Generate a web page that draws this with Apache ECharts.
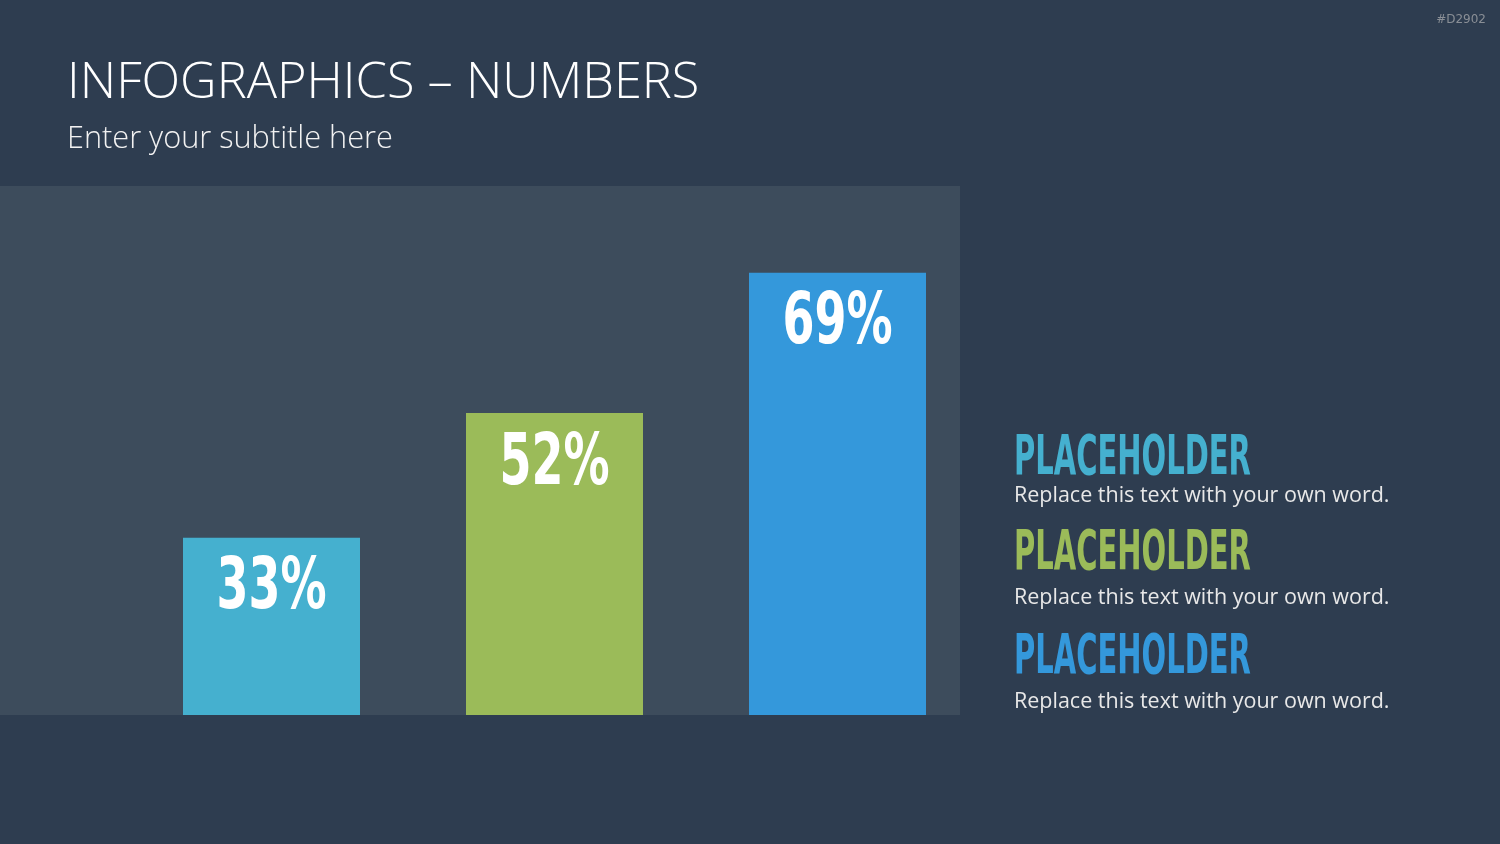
<!DOCTYPE html>
<html>
<head>
<meta charset="utf-8">
<script src="https://cdn.jsdelivr.net/npm/echarts@6/dist/echarts.min.js"></script>
<style>
html,body{margin:0;padding:0;background:#2E3D50;}
#chart{width:1500px;height:844px;}
</style>
</head>
<body>
<div id="chart"></div>
<script>
// ---- data ----
const categories = ['A', 'B', 'C'];
const barHeights = [33.5, 57.1, 83.6];        // bar heights as drawn (axis 0-100)
const barLabels = ['33%', '52%', '69%'];      // labels printed on bars
const barColors = ['#45B0CF', '#9BBB59', '#3498DB'];
const headings = ['PLACEHOLDER', 'PLACEHOLDER', 'PLACEHOLDER'];
const bodies = ['Replace this text with your own word.', 'Replace this text with your own word.', 'Replace this text with your own word.'];
const titleText = 'INFOGRAPHICS – NUMBERS';
const subtitleText = 'Enter your subtitle here';
const tagText = '#D2902';

const chart = echarts.init(document.getElementById('chart'));

const condensed = '"DejaVu Sans Condensed", "DejaVu Sans", sans-serif';
const headY = [460, 555, 659];
const bodyY = [496, 598, 702];

const graphics = [
  { type: 'rect', z: 0, silent: true, shape: { x: 0, y: 186, width: 960, height: 529 }, style: { fill: '#3D4C5C' } },
  { type: 'text', z: 5, x: 67, y: 84, style: { text: titleText, fill: '#FFFFFF', font: '300 50.5px "Open Sans", sans-serif', verticalAlign: 'middle' } },
  { type: 'text', z: 5, x: 67, y: 139, style: { text: subtitleText, fill: '#F2F2F2', font: '300 30.7px "Open Sans", sans-serif', verticalAlign: 'middle' } },
  { type: 'text', z: 5, x: 1486, y: 20, style: { text: tagText, fill: '#8A8F96', font: '12px "DejaVu Sans", sans-serif', align: 'right', verticalAlign: 'middle' } }
];
headings.forEach((h, i) => {
  graphics.push({ type: 'text', z: 5, x: 1014, y: headY[i], scaleX: 0.586, style: { text: h, fill: barColors[i], font: 'bold 55px ' + condensed, verticalAlign: 'middle' } });
  graphics.push({ type: 'text', z: 5, x: 1014, y: bodyY[i], style: { text: bodies[i], fill: '#E8E8E8', font: '21.5px "Open Sans", sans-serif', verticalAlign: 'middle' } });
});

chart.setOption({
  backgroundColor: '#2E3D50',
  animation: false,
  grid: { left: 130, right: 521, top: 186, bottom: 129 },
  xAxis: { type: 'category', data: categories, show: false },
  yAxis: { type: 'value', min: 0, max: 100, show: false },
  graphic: graphics,
  series: [{
    type: 'bar',
    z: 2,
    barWidth: 177,
    data: barHeights.map((v, i) => ({
      value: v,
      itemStyle: { color: barColors[i] }
    }))
  }, {
    type: 'custom',
    z: 4,
    silent: true,
    data: barHeights.map((v, i) => [i, v]),
    renderItem: function (params, api) {
      const p = api.coord([api.value(0), api.value(1)]);
      return {
        type: 'text',
        x: p[0],
        y: p[1] + 16,
        scaleX: 0.71,
        style: {
          text: barLabels[params.dataIndex],
          fill: '#FFFFFF',
          font: 'bold 72px ' + condensed,
          align: 'center',
          verticalAlign: 'top'
        }
      };
    }
  }]
});
</script>
</body>
</html>
